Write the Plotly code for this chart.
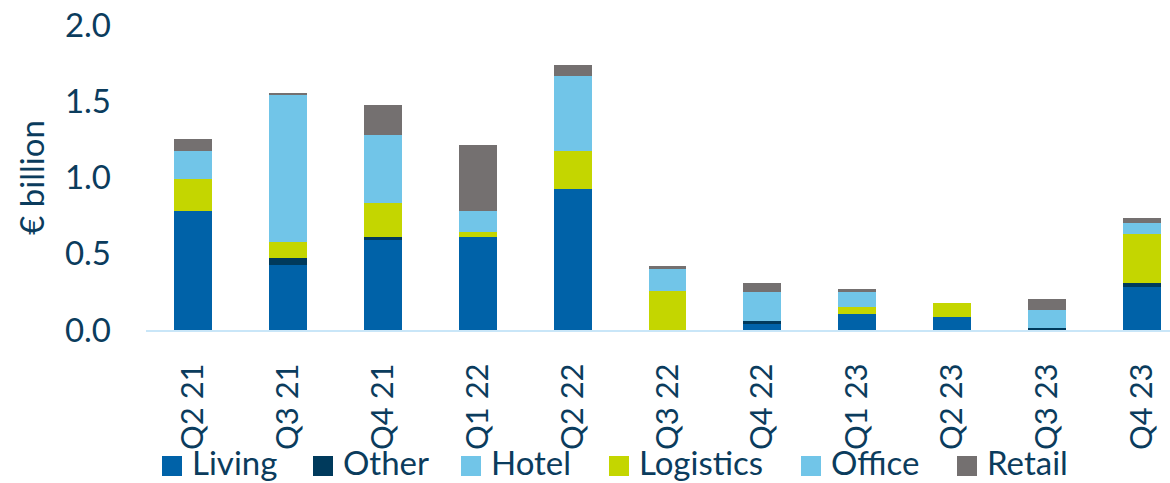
import plotly.graph_objects as go

# Quarterly investment volume by sector (€ billion)
quarters = ["Q2 21", "Q3 21", "Q4 21", "Q1 22", "Q2 22", "Q3 22",
            "Q4 22", "Q1 23", "Q2 23", "Q3 23", "Q4 23"]

living    = [0.780, 0.426, 0.590, 0.612, 0.927, 0.000, 0.039, 0.107, 0.085, 0.000, 0.282]
other     = [0.000, 0.048, 0.020, 0.000, 0.000, 0.000, 0.018, 0.000, 0.000, 0.015, 0.026]
hotel     = [0.000, 0.000, 0.000, 0.000, 0.000, 0.000, 0.000, 0.000, 0.000, 0.000, 0.000]
logistics = [0.210, 0.105, 0.221, 0.028, 0.247, 0.254, 0.000, 0.042, 0.095, 0.000, 0.319]
office    = [0.182, 0.964, 0.446, 0.140, 0.492, 0.148, 0.192, 0.100, 0.000, 0.115, 0.073]
retail    = [0.078, 0.005, 0.198, 0.431, 0.070, 0.018, 0.057, 0.018, 0.000, 0.075, 0.033]

series_names = ["Living", "Other", "Hotel", "Logistics", "Office", "Retail"]
series_values = [living, other, hotel, logistics, office, retail]
series_colors = ["#0062A8", "#003A5C", "#71C5E8", "#C4D600", "#71C5E8", "#747070"]

TEXT = "#0B3C5D"
FONT = "Lato"

W, H = 1170, 483
ML, MR, MT, MB = 146, 0, 25, 153
PW, PH = W - ML - MR, H - MT - MB


def px_x(p):
    return (p - ML) / PW


def px_y(p):
    return (H - MB - p) / PH


fig = go.Figure()
for name, vals, color in zip(series_names, series_values, series_colors):
    fig.add_trace(go.Bar(
        x=quarters, y=vals, name=name,
        marker=dict(color=color, line=dict(width=0)),
    ))

# Legend row drawn as swatches + labels along the bottom edge
legend_left = [162, 313, 461, 609, 801, 957]
SW = 20
for left, name, color in zip(legend_left, series_names, series_colors):
    fig.add_shape(
        type="rect", xref="paper", yref="paper",
        x0=px_x(left), x1=px_x(left + SW),
        y0=px_y(476), y1=px_y(476 - SW),
        fillcolor=color, line=dict(width=0), layer="above",
    )
    fig.add_annotation(
        text=name, xref="paper", yref="paper",
        x=px_x(left + 29), y=px_y(H),
        xanchor="left", yanchor="bottom", showarrow=False,
        borderpad=0,
        font=dict(family=FONT, color=TEXT, size=33),
    )

fig.update_layout(
    width=W, height=H,
    barmode="stack", bargap=0.6,
    plot_bgcolor="white", paper_bgcolor="white",
    margin=dict(l=ML, r=MR, t=MT, b=MB, pad=0),
    font=dict(family=FONT, color=TEXT, size=33),
    showlegend=False,
)

fig.update_xaxes(
    range=[-0.5, 10.3], automargin=False,
    showgrid=False, zeroline=False,
    showline=True, linecolor="#C9E6F8", linewidth=2,
    ticks="", tickangle=-90, ticklabelstandoff=19,
    tickfont=dict(family=FONT, color=TEXT, size=31),
)

fig.update_yaxes(
    range=[0, 2.0], dtick=0.5, tickformat=".1f", automargin=False,
    showgrid=False, zeroline=False, showline=False,
    ticks="", ticklabelstandoff=34,
    tickfont=dict(family=FONT, color=TEXT, size=33),
    title=dict(text="€ billion", standoff=10,
               font=dict(family=FONT, color=TEXT, size=33)),
)

fig.write_html("out.html")
